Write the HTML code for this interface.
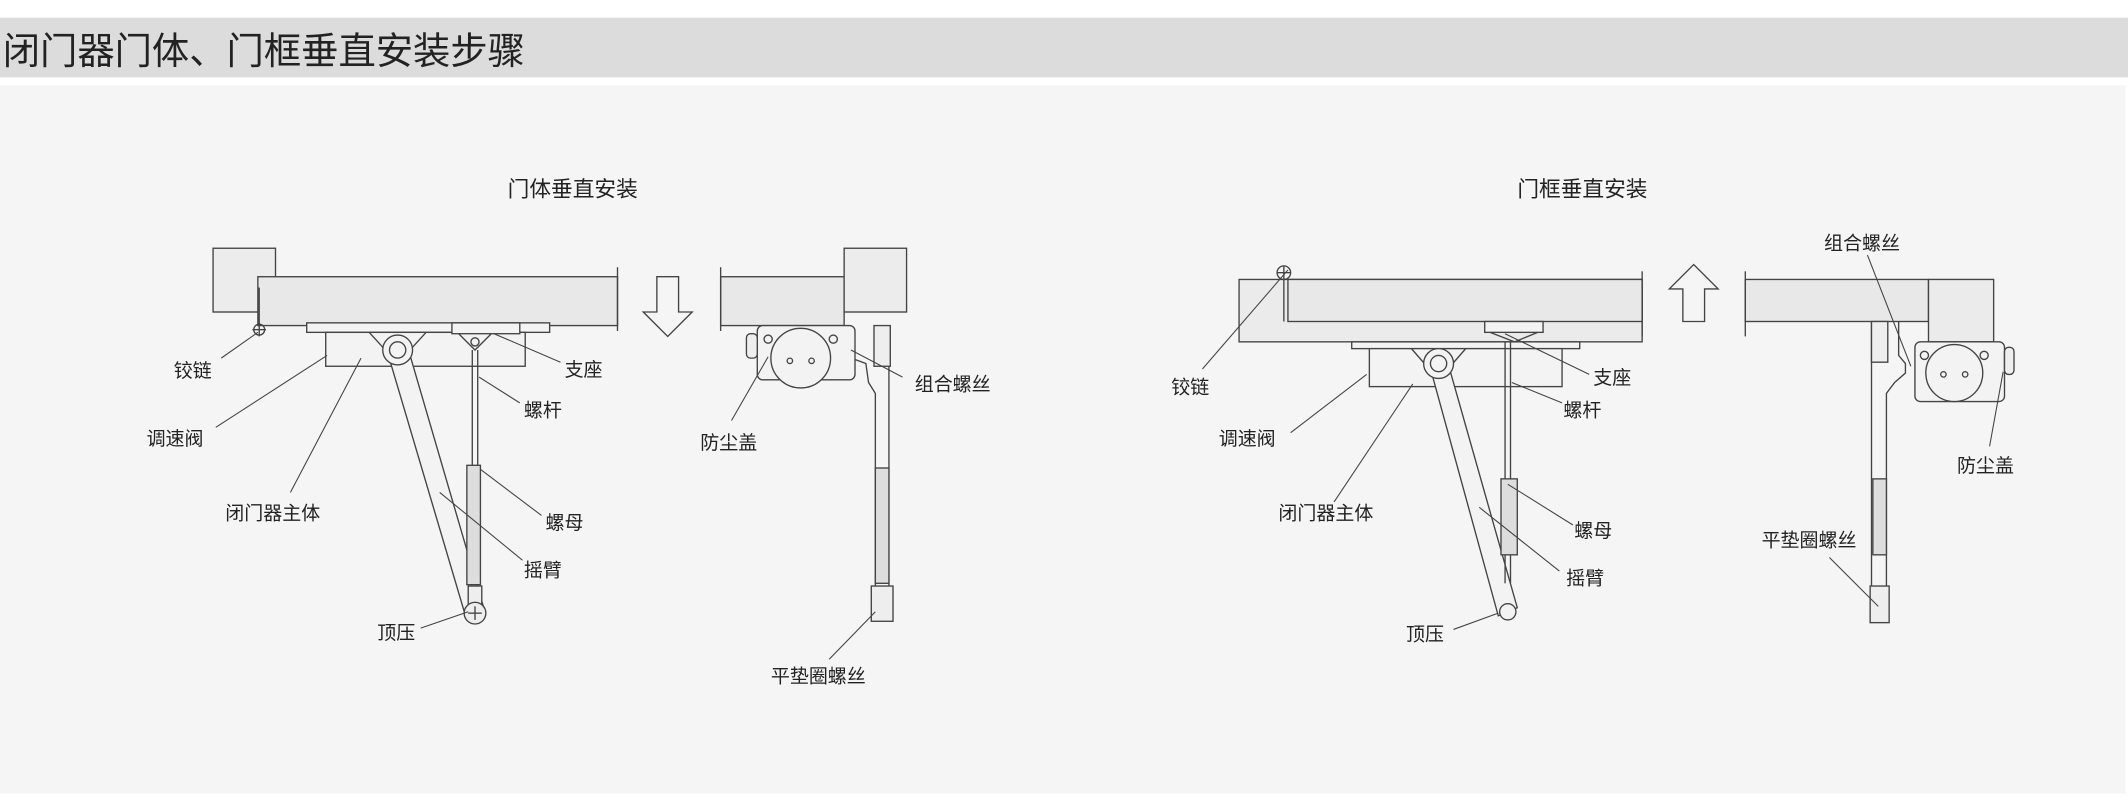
<!DOCTYPE html>
<html><head><meta charset="utf-8"><style>
html,body{margin:0;padding:0;background:#fff;}
svg{display:block;}
text{font-family:"Liberation Sans","Noto Sans CJK SC",sans-serif;fill:#222;}
</style></head><body>
<svg width="2128" height="799" viewBox="0 0 1568 589" preserveAspectRatio="none" xmlns="http://www.w3.org/2000/svg">
<rect x="0" y="0" width="1568" height="589" fill="#fff"/>
<rect x="0" y="13" width="1568" height="44" fill="#dcdcdc"/>
<text x="2" y="47" font-size="27.5">闭门器门体、门框垂直安装步骤</text>
<rect x="0" y="63" width="1566" height="522" fill="#f5f5f5"/>

<g stroke="#444" stroke-width="1" fill="#ececec">
<text x="422" y="145" font-size="16" text-anchor="middle" stroke="none">门体垂直安装</text>
<rect x="157" y="183" width="46" height="47"/>
<rect x="190" y="204" width="265" height="36" fill="#e8e8e8"/>
<line x1="455" y1="197" x2="455" y2="244"/>
<line x1="191" y1="212" x2="191" y2="240"/>
<circle cx="191" cy="243" r="4" fill="none"/>
<line x1="186" y1="243" x2="196" y2="243"/><line x1="191" y1="238" x2="191" y2="248"/>
<rect x="226" y="238" width="179" height="7" fill="#f3f3f3"/>
<rect x="240" y="245" width="147" height="25" fill="#f3f3f3"/>
<polyline points="272,245 293,268 314,245" fill="none"/>
<rect x="333" y="238" width="50" height="8" fill="#f3f3f3"/>
<polyline points="338,246 350,258 362,246" fill="none"/>
<circle cx="350" cy="252" r="3" fill="none"/>
<polygon points="285,258 301,258 357,450 343,454" fill="#f3f3f3"/>
<circle cx="293" cy="258" r="11" fill="#f3f3f3"/>
<circle cx="293" cy="258" r="6" fill="none"/>
<line x1="348" y1="258" x2="348" y2="345"/><line x1="352" y1="258" x2="352" y2="345"/>
<rect x="344" y="343" width="10" height="88" fill="#ddd"/>
<rect x="345" y="432" width="10" height="14" fill="#eee"/>
<circle cx="350" cy="452" r="8" fill="#eee"/>
<line x1="345" y1="452" x2="355" y2="452"/><line x1="350" y1="447" x2="350" y2="457"/>

<polygon points="484,204 500,204 500,230 510,230 492,248 474,230 484,230" fill="#f5f5f5"/>

<rect x="531" y="204" width="91" height="36" fill="#e8e8e8"/>
<line x1="531" y1="197" x2="531" y2="244"/>
<rect x="622" y="183" width="46" height="47"/>
<rect x="558" y="240" width="72" height="40" rx="4" fill="#f3f3f3"/>
<circle cx="590" cy="264" r="22" fill="#f3f3f3"/>
<circle cx="582" cy="266" r="2" fill="none"/><circle cx="598" cy="266" r="2" fill="none"/>
<circle cx="566" cy="250" r="3" fill="none"/><circle cx="614" cy="250" r="3" fill="none"/>
<rect x="550" y="246" width="8" height="18" rx="3" fill="#eee"/>
<polyline points="630,265 638,268 640,282 645,290 645,458" fill="none"/>
<line x1="655" y1="240" x2="655" y2="458"/>
<rect x="644" y="240" width="12" height="30" fill="#eee"/>
<rect x="645" y="345" width="10" height="85" fill="#ddd"/>
<rect x="642" y="432" width="16" height="26" fill="#eee"/>

<text x="1166" y="145" font-size="16" text-anchor="middle" stroke="none">门框垂直安装</text>
<rect x="913" y="206" width="297" height="46" fill="#ebebeb"/>
<rect x="949" y="206" width="261" height="31" fill="#e8e8e8"/>
<line x1="1210" y1="200" x2="1210" y2="248"/>
<line x1="946" y1="206" x2="946" y2="237"/>
<circle cx="946" cy="201" r="5" fill="none"/>
<line x1="941" y1="201" x2="951" y2="201"/><line x1="946" y1="196" x2="946" y2="206"/>
<rect x="996" y="252" width="168" height="5" fill="#f3f3f3"/>
<rect x="1009" y="257" width="142" height="28" fill="#f3f3f3"/>
<polyline points="1040,257 1060,280 1080,257" fill="none"/>
<rect x="1094" y="237" width="43" height="8" fill="#f3f3f3"/>
<polyline points="1098,245 1116,252 1133,245" fill="none"/>
<polygon points="1053,268 1067,268 1118,448 1104,454" fill="#f3f3f3"/>
<circle cx="1060" cy="268" r="11" fill="#f3f3f3"/>
<circle cx="1060" cy="268" r="6" fill="none"/>
<circle cx="1111" cy="451" r="6" fill="#f3f3f3"/>
<line x1="1109" y1="252" x2="1109" y2="355"/><line x1="1113" y1="252" x2="1113" y2="355"/>
<rect x="1106" y="353" width="12" height="56" fill="#ddd"/>
<line x1="1109" y1="409" x2="1109" y2="430"/><line x1="1113" y1="409" x2="1113" y2="430"/>

<polygon points="1240,237 1256,237 1256,213 1266,213 1248,195 1230,213 1240,213" fill="#f5f5f5"/>

<rect x="1286" y="206" width="135" height="31" fill="#e8e8e8"/>
<line x1="1286" y1="200" x2="1286" y2="248"/>
<polygon points="1421,206 1469,206 1469,252 1421,252 1421,237" fill="#ebebeb"/>
<rect x="1411" y="252" width="66" height="44" rx="4" fill="#f3f3f3"/>
<circle cx="1440" cy="275" r="21" fill="#f3f3f3"/>
<circle cx="1432" cy="276" r="2" fill="none"/><circle cx="1448" cy="276" r="2" fill="none"/>
<circle cx="1418" cy="262" r="3" fill="none"/><circle cx="1462" cy="262" r="3" fill="none"/>
<rect x="1477" y="256" width="7" height="20" rx="3" fill="#eee"/>
<line x1="1379" y1="237" x2="1379" y2="459"/>
<polyline points="1399,237 1399,262 1404,268 1404,275 1396,282 1390,290 1390,459" fill="none"/>
<rect x="1379" y="237" width="12" height="30" fill="#eee"/>
<rect x="1380" y="353" width="10" height="56" fill="#ddd"/>
<rect x="1378" y="432" width="14" height="27" fill="#eee"/>
</g>

<g stroke="#444" stroke-width="0.8" fill="none">
<line x1="163" y1="264" x2="190" y2="245"/>
<line x1="159" y1="315" x2="241" y2="262"/>
<line x1="214" y1="363" x2="266" y2="264"/>
<line x1="413" y1="267" x2="364" y2="246"/>
<line x1="383" y1="297" x2="353" y2="278"/>
<line x1="399" y1="380" x2="354" y2="346"/>
<line x1="385" y1="413" x2="324" y2="363"/>
<line x1="310" y1="463" x2="345" y2="451"/>
<line x1="665" y1="278" x2="627" y2="258"/>
<line x1="539" y1="310" x2="566" y2="263"/>
<line x1="611" y1="486" x2="645" y2="451"/>
<line x1="886" y1="272" x2="949" y2="199"/>
<line x1="951" y1="319" x2="1007" y2="276"/>
<line x1="983" y1="370" x2="1041" y2="283"/>
<line x1="1171" y1="276" x2="1109" y2="246"/>
<line x1="1151" y1="297" x2="1114" y2="282"/>
<line x1="1159" y1="387" x2="1111" y2="357"/>
<line x1="1149" y1="421" x2="1090" y2="374"/>
<line x1="1071" y1="464" x2="1104" y2="452"/>
<line x1="1376" y1="188" x2="1408" y2="270"/>
<line x1="1466" y1="329" x2="1476" y2="274"/>
<line x1="1348" y1="411" x2="1384" y2="447"/>
</g>

<g font-size="14">
<text x="128" y="278">铰链</text>
<text x="108" y="328">调速阀</text>
<text x="166" y="383">闭门器主体</text>
<text x="416" y="277">支座</text>
<text x="386" y="307">螺杆</text>
<text x="402" y="390">螺母</text>
<text x="386" y="425">摇臂</text>
<text x="278" y="471">顶压</text>
<text x="674" y="288">组合螺丝</text>
<text x="516" y="331">防尘盖</text>
<text x="568" y="503">平垫圈螺丝</text>
<text x="863" y="290">铰链</text>
<text x="898" y="328">调速阀</text>
<text x="942" y="383">闭门器主体</text>
<text x="1174" y="283">支座</text>
<text x="1152" y="307">螺杆</text>
<text x="1160" y="396">螺母</text>
<text x="1154" y="431">摇臂</text>
<text x="1036" y="472">顶压</text>
<text x="1344" y="184">组合螺丝</text>
<text x="1442" y="348">防尘盖</text>
<text x="1298" y="403">平垫圈螺丝</text>
</g>
</svg>
</body></html>
